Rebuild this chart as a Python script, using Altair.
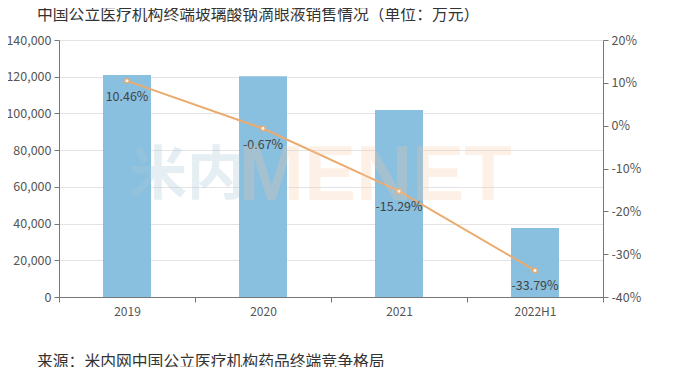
import altair as alt
import pandas as pd

years = ["2019", "2020", "2021", "2022H1"]
sales = [121000, 120300, 101900, 37600]
growth = [10.46, -0.67, -15.29, -33.79]
growth_labels = ["10.46%", "-0.67%", "-15.29%", "-33.79%"]

title_text = "中国公立医疗机构终端玻璃酸钠滴眼液销售情况（单位：万元）"
source_text = "来源：米内网中国公立医疗机构药品终端竞争格局"

df = pd.DataFrame({"year": years, "sales": sales, "growth": growth, "label": growth_labels})
one = pd.DataFrame({"k": [0]})

FONT = "Noto Sans CJK SC"
W, H = 544, 257

xenc = alt.X("year:N", sort=years, title=None,
             scale=alt.Scale(paddingInner=0, paddingOuter=0),
             axis=alt.Axis(labelAngle=0, tickBand="extent", labelColor="#555",
                           labelFontSize=12, labelFont=FONT, domainColor="#777",
                           tickColor="#777", labelPadding=4))

bars = alt.Chart(df).mark_bar(size=48, color="#89bfdf").encode(
    x=xenc,
    y=alt.Y("sales:Q", title=None,
            scale=alt.Scale(domain=[0, 140000], nice=False),
            axis=alt.Axis(values=list(range(0, 140001, 20000)), format=",d",
                          labelColor="#555", labelFontSize=12.5, labelFont=FONT,
                          domainColor="#777", tickColor="#777", gridColor="#e3e3e3",
                          labelPadding=3)),
)

yr = alt.Y("growth:Q", title=None,
           scale=alt.Scale(domain=[-40, 20], nice=False),
           axis=alt.Axis(values=list(range(-40, 21, 10)), labelExpr="datum.value + '%'",
                         orient="right", grid=False, labelColor="#555", labelFontSize=12.5,
                         labelFont=FONT, domainColor="#777", tickColor="#777", labelPadding=3))

line = alt.Chart(df).mark_line(color="#ebab6e", strokeWidth=2).encode(x=xenc, y=yr)
pts = alt.Chart(df).mark_point(filled=True, fill="white", stroke="#ebab6e",
                               strokeWidth=1.5, size=20, opacity=1).encode(x=xenc, y=yr)
labels = alt.Chart(df).mark_text(dy=16, fontSize=12.5, color="#444", font=FONT).encode(
    x=xenc, y=yr, text="label:N")

right = alt.layer(line, pts, labels)

wm1 = alt.Chart(one).mark_text(text="米内", align="left", baseline="middle", fontSize=58,
                               fontWeight="bold", color="#a9c9d8", opacity=0.3, font=FONT
                               ).encode(x=alt.value(70), y=alt.value(137))
wm2 = alt.Chart(one).mark_text(text="MENET", align="left", baseline="middle", fontSize=78,
                               fontWeight="bold", color="#f8c9a4", opacity=0.25,
                               font="Liberation Sans").encode(x=alt.value(180), y=alt.value(137))

ttl = alt.Chart(one).mark_text(text=title_text, align="left", baseline="middle", fontSize=15.8,
                               color="#333", font=FONT).encode(x=alt.value(-22), y=alt.value(-25))
src = alt.Chart(one).mark_text(text=source_text, align="left", baseline="middle", fontSize=15.8,
                               color="#333", font=FONT).encode(x=alt.value(-22), y=alt.value(322))

chart = alt.layer(bars, right, wm1, wm2, ttl, src).resolve_scale(y="independent").properties(
    width=W, height=H,
    autosize=alt.AutoSizeParams(type="none"),
    padding={"left": 51, "top": 32, "right": 60, "bottom": 70},
).configure_view(stroke=None)

chart.save("out.html", embed_options={"renderer": "svg", "actions": False})
